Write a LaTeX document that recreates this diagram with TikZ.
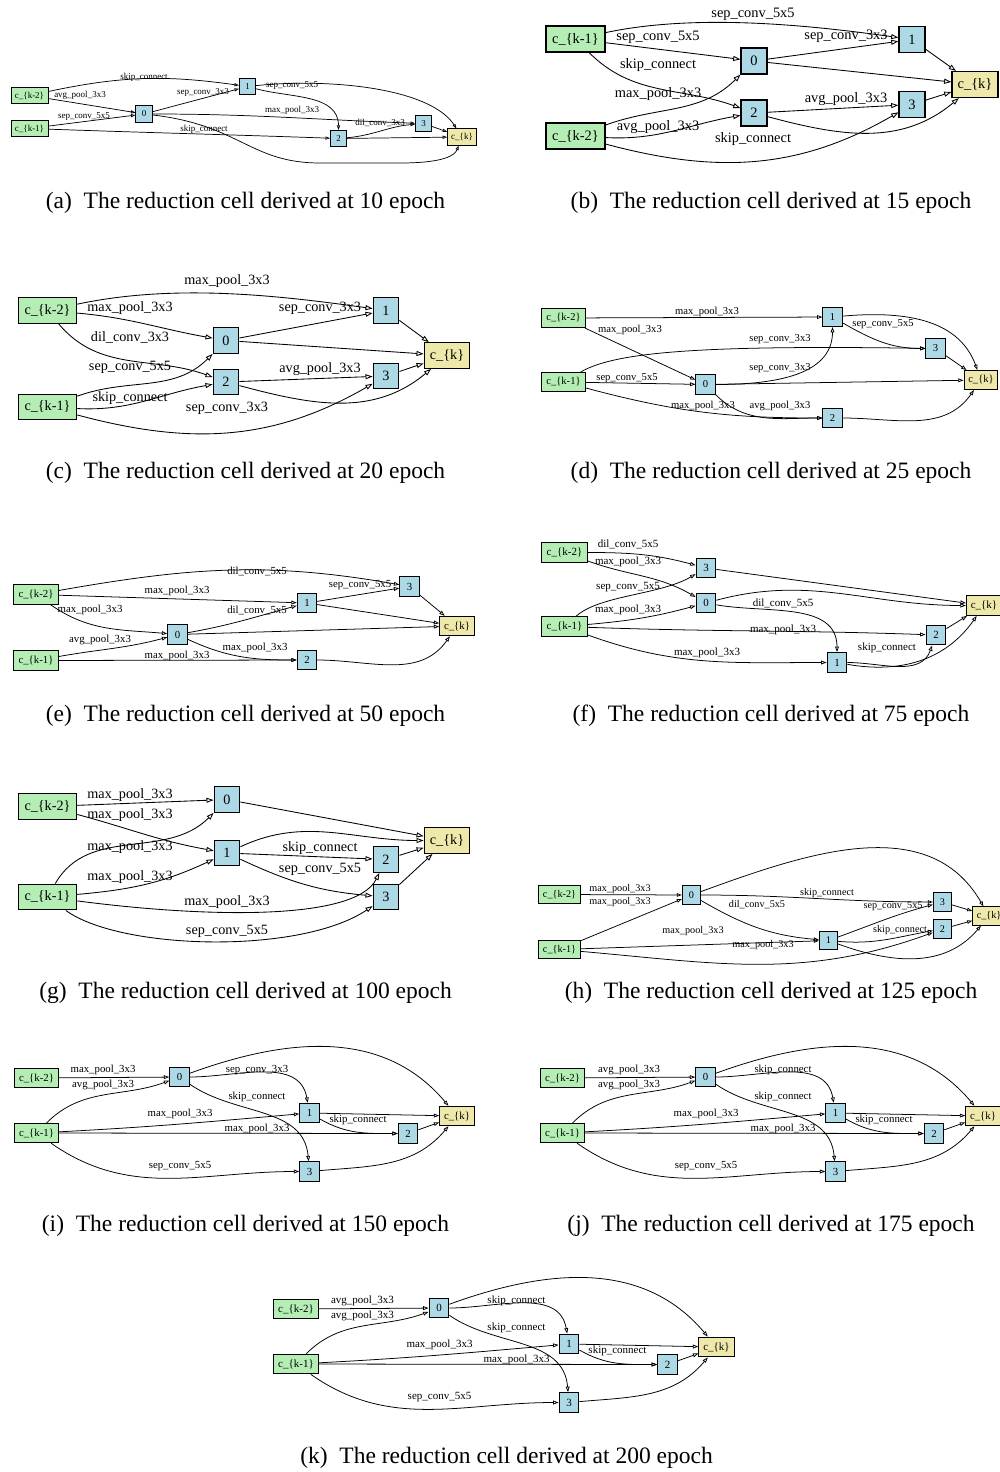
\documentclass[tikz,border=0pt]{standalone}
\usepackage{fontspec}
\setmainfont{Liberation Serif}
\usetikzlibrary{arrows.meta}
\definecolor{inpc}{HTML}{B4EEB4}
\definecolor{midc}{HTML}{ADD8E6}
\definecolor{outc}{HTML}{EEE8AA}
\newcommand\setcell[1]{%
  \pgfmathsetmacro\cfs{20*#1}%
  \pgfmathsetmacro\cnh{36*#1}%
  \pgfmathsetmacro\cwi{82*#1}%
  \pgfmathsetmacro\cwo{64*#1}%
  \pgfmathsetmacro\celw{0.5+0.5*#1}%
  \pgfmathsetmacro\cnlw{max(0.8,1.8*#1)}%
  \pgfmathsetmacro\cal{10*#1}%
  \pgfmathsetmacro\caw{7*#1}%
}
\tikzset{
  nd/.style={draw=black, line width=\cnlw pt, inner sep=0pt, font=\fontsize{\cfs pt}{\cfs pt}\selectfont},
  inpn/.style={nd, fill=inpc, minimum height=\cnh pt, minimum width=\cwi pt},
  midn/.style={nd, fill=midc, minimum height=\cnh pt, minimum width=\cnh pt},
  outn/.style={nd, fill=outc, minimum height=\cnh pt, minimum width=\cwo pt},
  ed/.style={draw=black, line width=\celw pt, -{Triangle[open, length=\cal pt, width=\caw pt]}},
  lab/.style={inner sep=0pt, font=\fontsize{\cfs pt}{\cfs pt}\selectfont},
  capt/.style={inner sep=0pt, font=\fontsize{23.5}{23.5}\selectfont},
}
% cells (i), (j), (k) share one layout
\newcommand\cellIJK[9]{%
  \node[inpn] (#1k2) at (36.5,-1078) {c\_\{k-2\}};
  \node[inpn] (#1k1) at (36.5,-1133) {c\_\{k-1\}};
  \node[midn] (#10) at (179.5,-1077) {0};
  \node[midn] (#11) at (309.5,-1113) {1};
  \node[midn] (#12) at (408,-1133.5) {2};
  \node[midn] (#13) at (309.5,-1171.5) {3};
  \node[outn] (#1ck) at (457,-1116) {c\_\{k\}};
  \draw[ed] (#1k2) -- (#10);
  \draw[ed] (#1k1) to[out=45,in=200] (#10);
  \draw[ed] (#1k1) to[out=3,in=185] (#11);
  \draw[ed] (#1k1) -- (#12);
  \draw[ed] (#1k1) to[out=-35,in=180] (#13);
  \draw[ed] (#10) to[out=0,in=100] (#11);
  \draw[ed] (#10) to[out=-35,in=95] (#13);
  \draw[ed] (#10) to[out=20,in=130] (#1ck);
  \draw[ed] (#11) -- (#1ck);
  \draw[ed] (#11) to[out=-30,in=180] (#12);
  \draw[ed] (#12) -- (#1ck);
  \draw[ed] (#13) to[out=5,in=230] (#1ck);
  \node[lab] (#1l1) at (103,-1070) {#2};
  \node[lab] (#1l2) at (103,-1085) {#3};
  \node[lab] (#1l3) at (180,-1114) {#4};
  \node[lab] (#1l4) at (257,-1129) {#5};
  \node[lab] (#1l5) at (180,-1166) {#6};
  \node[lab] (#1l6) at (257,-1070) {#7};
  \node[lab] (#1l7) at (257,-1097) {#8};
  \node[lab] (#1l8) at (358,-1120) {#9};
}
\begin{document}
\begin{tikzpicture}[x=1pt,y=1pt]
\useasboundingbox (0,0) rectangle (999,-1472);
\fill[white] (0,0) rectangle (999,-1472);

% ---------------- (a)
\begin{scope}
\setcell{0.45}
\node[inpn] (ak2) at (29.5,-95.5) {c\_\{k-2\}};
\node[inpn] (ak1) at (29.5,-128.5) {c\_\{k-1\}};
\node[midn] (a0) at (144,-114) {0};
\node[midn] (a1) at (247.5,-86.5) {1};
\node[midn] (a2) at (338.5,-138.5) {2};
\node[midn] (a3) at (423.5,-123.5) {3};
\node[outn] (ack) at (462,-137) {c\_\{k\}};
\draw[ed] (ak2) to[out=12,in=172] (a1);
\draw[ed] (ak2) -- (a0);
\draw[ed] (ak1) -- (a0);
\draw[ed] (ak1) to[out=-2,in=178] (a2);
\draw[ed] (a0) -- (a1);
\draw[ed] (a0) to[out=0,in=178] (a3);
\draw[ed] (a0) .. controls (240,-125) and (250,-163) .. (320,-163) -- (400,-163) .. controls (445,-163) and (455,-155) .. (ack);
\draw[ed] (a1) to[out=-15,in=90] (a2);
\draw[ed] (a1) .. controls (330,-78) and (430,-88) .. (ack);
\draw[ed] (a2) to[out=5,in=185] (a3);
\draw[ed] (a2) -- (ack);
\draw[ed] (a3) -- (ack);
\node[lab] (la1) at (144,-77) {skip\_connect};
\node[lab] (la2) at (80,-95) {avg\_pool\_3x3};
\node[lab] (la3) at (84,-117) {sep\_conv\_5x5};
\node[lab] (la4) at (204,-129) {skip\_connect};
\node[lab] (la5) at (203,-92) {sep\_conv\_3x3};
\node[lab] (la6) at (292,-110) {max\_pool\_3x3};
\node[lab] (la7) at (292,-86) {sep\_conv\_5x5};
\node[lab] (la8) at (380,-123) {dil\_conv\_3x3};
\end{scope}

% ---------------- (b)
\begin{scope}
\setcell{0.72}
\node[inpn] (bk1) at (575.5,-39) {c\_\{k-1\}};
\node[inpn] (bk2) at (575.5,-136) {c\_\{k-2\}};
\node[midn] (b0) at (754,-61) {0};
\node[midn] (b1) at (912,-39.5) {1};
\node[midn] (b2) at (754,-113) {2};
\node[midn] (b3) at (912,-104.5) {3};
\node[outn] (bck) at (975,-84.5) {c\_\{k\}};
\draw[ed] (bk1) to[out=12,in=172,looseness=0.8] (b1);
\draw[ed] (bk1) -- (b0);
\draw[ed] (bk1) to[out=-45,in=160] (b2);
\draw[ed] (bk2) to[out=20,in=225] (b0);
\draw[ed] (bk2) to[out=-3,in=190] (b2);
\draw[ed] (bk2) to[out=-15,in=210] (b3);
\draw[ed] (b0) -- (b1);
\draw[ed] (b0) -- (bck);
\draw[ed] (b2) -- (b3);
\draw[ed] (b2) to[out=-15,in=220] (bck);
\draw[ed] (b1) -- (bck);
\draw[ed] (b3) -- (bck);
\node[lab] (lb1) at (753,-14) {sep\_conv\_5x5};
\node[lab] (lb2) at (658,-37) {sep\_conv\_5x5};
\node[lab] (lb3) at (658,-65) {skip\_connect};
\node[lab] (lb4) at (658,-94) {max\_pool\_3x3};
\node[lab] (lb5) at (658,-127) {avg\_pool\_3x3};
\node[lab] (lb6) at (753,-139) {skip\_connect};
\node[lab] (lb7) at (846,-36) {sep\_conv\_3x3};
\node[lab] (lb8) at (846,-99) {avg\_pool\_3x3};
\end{scope}

% ---------------- (c)
\begin{scope}
\setcell{0.71}
\node[inpn] (ck2) at (47.5,-310.5) {c\_\{k-2\}};
\node[inpn] (ck1) at (47.5,-407) {c\_\{k-1\}};
\node[midn] (c0) at (226,-340.5) {0};
\node[midn] (c1) at (386,-310.5) {1};
\node[midn] (c2) at (226,-382) {2};
\node[midn] (c3) at (386,-376) {3};
\node[outn] (cck) at (447,-355.5) {c\_\{k\}};
\draw[ed] (ck2) to[out=12,in=172,looseness=0.85] (c1);
\draw[ed] (ck2) to[out=-5,in=170] (c0);
\draw[ed] (ck2) to[out=-50,in=160] (c2);
\draw[ed] (ck1) to[out=20,in=225] (c0);
\draw[ed] (ck1) to[out=-3,in=190] (c2);
\draw[ed] (ck1) to[out=-15,in=210] (c3);
\draw[ed] (c0) -- (c1);
\draw[ed] (c0) -- (cck);
\draw[ed] (c2) -- (c3);
\draw[ed] (c2) to[out=-15,in=220] (cck);
\draw[ed] (c1) -- (cck);
\draw[ed] (c3) -- (cck);
\node[lab] (lc1) at (227,-281) {max\_pool\_3x3};
\node[lab] (lc2) at (130,-308) {max\_pool\_3x3};
\node[lab] (lc3) at (130,-337) {dil\_conv\_3x3};
\node[lab] (lc4) at (130,-367) {sep\_conv\_5x5};
\node[lab] (lc5) at (130,-398) {skip\_connect};
\node[lab] (lc6) at (227,-408) {sep\_conv\_3x3};
\node[lab] (lc7) at (320,-308) {sep\_conv\_3x3};
\node[lab] (lc8) at (320,-369) {avg\_pool\_3x3};
\end{scope}

% ---------------- (d)
\begin{scope}
\setcell{0.53}
\node[inpn] (dk2) at (563.5,-318) {c\_\{k-2\}};
\node[inpn] (dk1) at (563.5,-382) {c\_\{k-1\}};
\node[midn] (d0) at (705.5,-384.5) {0};
\node[midn] (d1) at (832.5,-317) {1};
\node[midn] (d3) at (935.5,-348.5) {3};
\node[midn] (d2) at (832.5,-418) {2};
\node[outn] (dck) at (981,-380) {c\_\{k\}};
\draw[ed] (dk2) -- (d1);
\draw[ed] (dk2) -- (d0);
\draw[ed] (dk1) .. controls (615,-352) and (700,-345) .. (d3);
\draw[ed] (dk1) -- (d0);
\draw[ed] (dk1) to[out=-15,in=180] (d2);
\draw[ed] (d0) to[out=0,in=-90] (d1);
\draw[ed] (d0) to[out=-45,in=180] (d2);
\draw[ed] (d0) -- (dck);
\draw[ed] (d1) to[out=-30,in=180] (d3);
\draw[ed] (d1) to[out=5,in=110] (dck);
\draw[ed] (d3) -- (dck);
\draw[ed] (d2) to[out=0,in=235] (dck);
\node[lab] (ld1) at (707,-312) {max\_pool\_3x3};
\node[lab] (ld2) at (630,-330) {max\_pool\_3x3};
\node[lab] (ld3) at (780,-339) {sep\_conv\_3x3};
\node[lab] (ld4) at (627,-378) {sep\_conv\_5x5};
\node[lab] (ld5) at (703,-406) {max\_pool\_3x3};
\node[lab] (ld6) at (780,-368) {sep\_conv\_3x3};
\node[lab] (ld7) at (780,-406) {avg\_pool\_3x3};
\node[lab] (ld8) at (883,-324) {sep\_conv\_5x5};
\end{scope}

% ---------------- (e)
\begin{scope}
\setcell{0.54}
\node[inpn] (ek2) at (36,-594.5) {c\_\{k-2\}};
\node[inpn] (ek1) at (36,-660.5) {c\_\{k-1\}};
\node[midn] (e0) at (177.5,-634.5) {0};
\node[midn] (e1) at (307,-603) {1};
\node[midn] (e3) at (409.5,-586.5) {3};
\node[midn] (e2) at (307,-660) {2};
\node[outn] (eck) at (457,-626) {c\_\{k\}};
\draw[ed] (ek2) to[out=10,in=170] (e3);
\draw[ed] (ek2) -- (e1);
\draw[ed] (ek2) to[out=-35,in=175] (e0);
\draw[ed] (ek1) to[out=10,in=195] (e0);
\draw[ed] (ek1) -- (e2);
\draw[ed] (e0) to[out=10,in=195] (e1);
\draw[ed] (e0) to[out=-25,in=180] (e2);
\draw[ed] (e0) -- (eck);
\draw[ed] (e1) -- (e3);
\draw[ed] (e1) -- (eck);
\draw[ed] (e3) -- (eck);
\draw[ed] (e2) to[out=0,in=235] (eck);
\node[lab] (le1) at (257,-571) {dil\_conv\_5x5};
\node[lab] (le2) at (177,-591) {max\_pool\_3x3};
\node[lab] (le3) at (90,-610) {max\_pool\_3x3};
\node[lab] (le4) at (100,-640) {avg\_pool\_3x3};
\node[lab] (le5) at (177,-656) {max\_pool\_3x3};
\node[lab] (le6) at (257,-610) {dil\_conv\_5x5};
\node[lab] (le7) at (255,-648) {max\_pool\_3x3};
\node[lab] (le8) at (360,-585) {sep\_conv\_5x5};
\end{scope}

% ---------------- (f)
\begin{scope}
\setcell{0.55}
\node[inpn] (fk2) at (564.5,-552.5) {c\_\{k-2\}};
\node[inpn] (fk1) at (564.5,-626.5) {c\_\{k-1\}};
\node[midn] (f3) at (706,-568) {3};
\node[midn] (f0) at (706,-603) {0};
\node[midn] (f2) at (936,-635) {2};
\node[midn] (f1) at (837,-662.5) {1};
\node[outn] (fck) at (984,-605.5) {c\_\{k\}};
\draw[ed] (fk2) to[out=0,in=165] (f3);
\draw[ed] (fk2) to[out=-20,in=150] (f0);
\draw[ed] (fk1) .. controls (600,-595) and (660,-595) .. (f3);
\draw[ed] (fk1) to[out=5,in=195] (f0);
\draw[ed] (fk1) to[out=-2,in=178] (f2);
\draw[ed] (fk1) to[out=-20,in=180] (f1);
\draw[ed] (f0) to[out=-10,in=90] (f1);
\draw[ed] (f0) to[out=15,in=180] (fck);
\draw[ed] (f3) -- (fck);
\draw[ed] (f1) to[out=0,in=250] (f2);
\draw[ed] (f1) to[out=-10,in=235] (fck);
\draw[ed] (f2) -- (fck);
\node[lab] (lf1) at (628,-544) {dil\_conv\_5x5};
\node[lab] (lf2) at (628,-562) {max\_pool\_3x3};
\node[lab] (lf3) at (628,-587) {sep\_conv\_5x5};
\node[lab] (lf4) at (628,-610) {max\_pool\_3x3};
\node[lab] (lf5) at (783,-630) {max\_pool\_3x3};
\node[lab] (lf6) at (707,-653) {max\_pool\_3x3};
\node[lab] (lf7) at (783,-603) {dil\_conv\_5x5};
\node[lab] (lf8) at (887,-648) {skip\_connect};
\end{scope}

% ---------------- (g)
\begin{scope}
\setcell{0.71}
\node[inpn] (gk2) at (47.5,-806.5) {c\_\{k-2\}};
\node[inpn] (gk1) at (47.5,-897) {c\_\{k-1\}};
\node[midn] (g0) at (227,-799.5) {0};
\node[midn] (g1) at (227,-853) {1};
\node[midn] (g2) at (386,-859.5) {2};
\node[midn] (g3) at (386,-897) {3};
\node[outn] (gck) at (447,-840.5) {c\_\{k\}};
\draw[ed] (gk2) -- (g0);
\draw[ed] (gk2) to[out=-15,in=170] (g1);
\draw[ed] (gk1) to[out=60,in=225] (g0);
\draw[ed] (gk1) to[out=5,in=205] (g1);
\draw[ed] (gk1) .. controls (200,-917) and (355,-922) .. (g2);
\draw[ed] (gk1) .. controls (120,-950) and (300,-955) .. (g3);
\draw[ed] (g1) to[out=25,in=180] (gck);
\draw[ed] (g1) -- (g2);
\draw[ed] (g1) to[out=-25,in=175] (g3);
\draw[ed] (g0) -- (gck);
\draw[ed] (g2) -- (gck);
\draw[ed] (g3) -- (gck);
\node[lab] (lg1) at (130,-795) {max\_pool\_3x3};
\node[lab] (lg2) at (130,-815) {max\_pool\_3x3};
\node[lab] (lg3) at (130,-847) {max\_pool\_3x3};
\node[lab] (lg4) at (130,-877) {max\_pool\_3x3};
\node[lab] (lg5) at (227,-902) {max\_pool\_3x3};
\node[lab] (lg6) at (227,-931) {sep\_conv\_5x5};
\node[lab] (lg7) at (320,-848) {skip\_connect};
\node[lab] (lg8) at (320,-869) {sep\_conv\_5x5};
\end{scope}

% ---------------- (h)
\begin{scope}
\setcell{0.51}
\node[inpn] (hk2) at (559.5,-894.5) {c\_\{k-2\}};
\node[inpn] (hk1) at (559.5,-949.5) {c\_\{k-1\}};
\node[midn] (h0) at (691.5,-895) {0};
\node[midn] (h3) at (942.5,-902) {3};
\node[midn] (h2) at (942.5,-929) {2};
\node[midn] (h1) at (828.5,-940.5) {1};
\node[outn] (hck) at (989,-916) {c\_\{k\}};
\draw[ed] (hk2) -- (h0);
\draw[ed] (hk1) -- (h0);
\draw[ed] (hk1) -- (h1);
\draw[ed] (hk1) to[out=-5,in=200] (h2);
\draw[ed] (h0) to[out=0,in=180] (h3);
\draw[ed] (h0) to[out=-30,in=175] (h1);
\draw[ed] (h0) to[out=20,in=120] (hck);
\draw[ed] (h1) to[out=20,in=195] (h3);
\draw[ed] (h1) to[out=-5,in=190] (h2);
\draw[ed] (h1) to[out=-20,in=230] (hck);
\draw[ed] (h3) -- (hck);
\draw[ed] (h2) -- (hck);
\node[lab] (lh1) at (620,-889) {max\_pool\_3x3};
\node[lab] (lh2) at (620,-902) {max\_pool\_3x3};
\node[lab] (lh3) at (693,-931) {max\_pool\_3x3};
\node[lab] (lh4) at (763,-945) {max\_pool\_3x3};
\node[lab] (lh5) at (827,-893) {skip\_connect};
\node[lab] (lh6) at (757,-905) {dil\_conv\_5x5};
\node[lab] (lh7) at (893,-906) {sep\_conv\_5x5};
\node[lab] (lh8) at (900,-930) {skip\_connect};
\end{scope}

% ---------------- (i), (j), (k)
\begin{scope}
\setcell{0.54}
\cellIJK{i}{max\_pool\_3x3}{avg\_pool\_3x3}{max\_pool\_3x3}{max\_pool\_3x3}{sep\_conv\_5x5}{sep\_conv\_3x3}{skip\_connect}{skip\_connect}
\end{scope}
\begin{scope}[shift={(526,0)}]
\setcell{0.54}
\cellIJK{j}{avg\_pool\_3x3}{avg\_pool\_3x3}{max\_pool\_3x3}{max\_pool\_3x3}{sep\_conv\_5x5}{skip\_connect}{skip\_connect}{skip\_connect}
\end{scope}
\begin{scope}[shift={(259.5,-231)}]
\setcell{0.55}
\cellIJK{k}{avg\_pool\_3x3}{avg\_pool\_3x3}{max\_pool\_3x3}{max\_pool\_3x3}{sep\_conv\_5x5}{skip\_connect}{skip\_connect}{skip\_connect}
\end{scope}

% ---------------- captions
\node[capt] (capa) at (245.5,-203) {(a)~~The reduction cell derived at 10 epoch};
\node[capt] (capb) at (771,-203) {(b)~~The reduction cell derived at 15 epoch};
\node[capt] (capc) at (245.5,-473) {(c)~~The reduction cell derived at 20 epoch};
\node[capt] (capd) at (771,-473) {(d)~~The reduction cell derived at 25 epoch};
\node[capt] (cape) at (245.5,-716) {(e)~~The reduction cell derived at 50 epoch};
\node[capt] (capf) at (771,-716) {(f)~~The reduction cell derived at 75 epoch};
\node[capt] (capg) at (245.5,-993) {(g)~~The reduction cell derived at 100 epoch};
\node[capt] (caph) at (771,-993) {(h)~~The reduction cell derived at 125 epoch};
\node[capt] (capi) at (245.5,-1226) {(i)~~The reduction cell derived at 150 epoch};
\node[capt] (capj) at (771,-1226) {(j)~~The reduction cell derived at 175 epoch};
\node[capt] (capk) at (506.5,-1458) {(k)~~The reduction cell derived at 200 epoch};
\end{tikzpicture}
\end{document}
